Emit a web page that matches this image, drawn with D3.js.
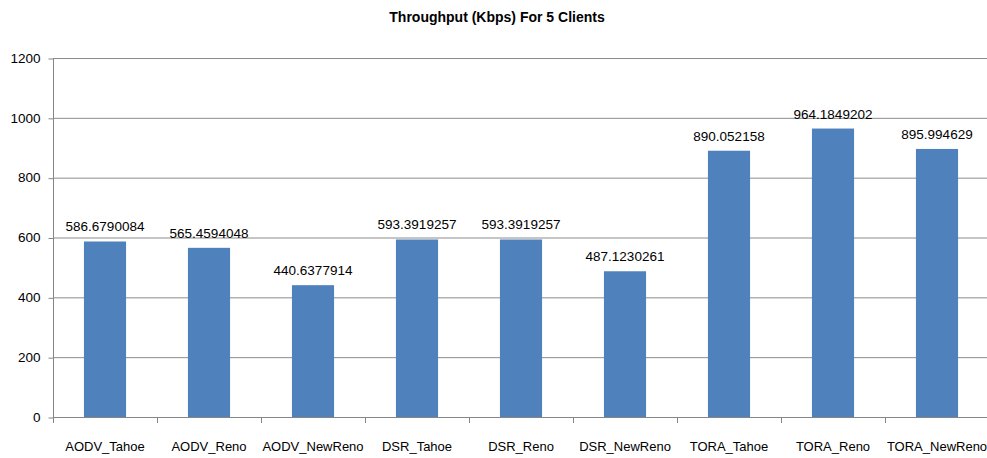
<!DOCTYPE html>
<html>
<head>
<meta charset="utf-8">
<script src="https://cdn.jsdelivr.net/npm/d3@7"></script>
<style>
html,body{margin:0;padding:0;background:#fff;}
svg{display:block;}
</style>
</head>
<body>
<svg id="chart" width="987" height="458"></svg>
<script>
const title = "Throughput (Kbps) For 5 Clients";
const categories = ["AODV_Tahoe","AODV_Reno","AODV_NewReno","DSR_Tahoe","DSR_Reno","DSR_NewReno","TORA_Tahoe","TORA_Reno","TORA_NewReno"];
const values = [586.6790084,565.4594048,440.6377914,593.3919257,593.3919257,487.1230261,890.052158,964.1849202,895.994629];
const valueLabels = ["586.6790084","565.4594048","440.6377914","593.3919257","593.3919257","487.1230261","890.052158","964.1849202","895.994629"];
const yTicks = [0,200,400,600,800,1000,1200];

const svg = d3.select("#chart");
const m = {left:53, right:989, top:58, bottom:417};
const FONT = "Liberation Sans, Arial, sans-serif";

const x = d3.scaleBand().domain(categories).range([m.left, m.right]).paddingInner(0).paddingOuter(0);
const y = d3.scaleLinear().domain([0,1200]).range([m.bottom, m.top]);

// grid
svg.append("g").selectAll("line").data(yTicks.filter(d=>d>0)).join("line")
  .attr("x1", m.left).attr("x2", m.right)
  .attr("y1", d=>y(d)+0.5).attr("y2", d=>y(d)+0.5)
  .attr("stroke", "#8c8c8c").attr("stroke-width", 1);

// bars
const bw = x.bandwidth()*0.405;
svg.append("g").selectAll("rect").data(categories).join("rect")
  .attr("x", (d)=>x(d)+x.bandwidth()/2-bw/2)
  .attr("width", bw)
  .attr("y", (d,i)=>y(values[i]))
  .attr("height", (d,i)=>y(0)-y(values[i]))
  .attr("fill", "#4f81bd");

// value labels
svg.append("g").selectAll("text").data(categories).join("text")
  .attr("x", d=>x(d)+x.bandwidth()/2)
  .attr("y", (d,i)=>y(values[i])-10)
  .attr("text-anchor","middle")
  .attr("font-family",FONT)
  .attr("font-size","13.5px")
  .attr("fill","#000")
  .text((d,i)=>valueLabels[i]);

// y axis
const yAxis = d3.axisLeft(y).tickValues(yTicks).tickFormat(d3.format("d")).tickSize(5).tickPadding(8);
const gy = svg.append("g").attr("transform",`translate(${m.left+0.5},0)`).call(yAxis);
gy.select(".domain").attr("stroke","#868686").attr("d",`M0,${m.top}V${m.bottom+0.5}`);
gy.selectAll(".tick line").attr("stroke","#868686").attr("transform","translate(0,0.5)");
gy.selectAll(".tick text").attr("font-family",FONT).attr("font-size","13.5px").attr("fill","#000");

// x axis
const xAxis = d3.axisBottom(x).tickSize(0).tickPadding(0);
const gx = svg.append("g").attr("transform",`translate(0,${m.bottom+0.5})`).call(xAxis);
gx.select(".domain").attr("stroke","#868686").attr("d",`M${m.left},0H${m.right}`);
gx.selectAll(".tick text").attr("font-family",FONT).attr("font-size","13px").attr("fill","#000").attr("dy","0").attr("y",33);
// category boundary tick marks
svg.append("g").selectAll("line").data(categories.slice(1)).join("line")
  .attr("x1", d=>Math.round(x(d))+0.5).attr("x2", d=>Math.round(x(d))+0.5)
  .attr("y1", m.bottom).attr("y2", m.bottom+6)
  .attr("stroke","#868686");
svg.append("line").attr("x1",m.left+0.5).attr("x2",m.left+0.5).attr("y1",m.bottom).attr("y2",m.bottom+6).attr("stroke","#868686");

// title
svg.append("text").attr("x",497).attr("y",22).attr("text-anchor","middle")
  .attr("font-family",FONT).attr("font-weight","bold")
  .attr("font-size","14px").attr("fill","#000").text(title);
</script>
</body>
</html>
